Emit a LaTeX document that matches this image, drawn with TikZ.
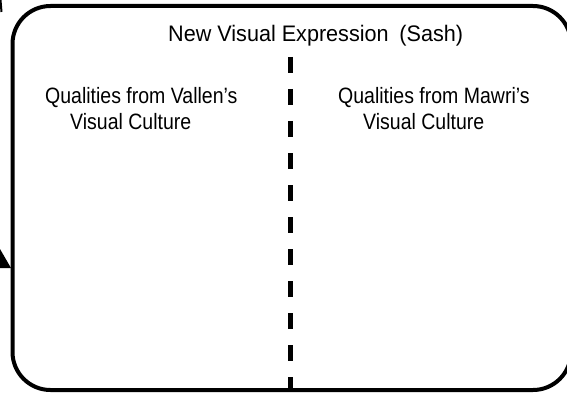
\documentclass[tikz,border=0pt]{standalone}
\usepackage{fontspec}
\usepackage{graphicx}
\setmainfont{Liberation Sans}
\newcommand{\tallbody}[1]{\scalebox{1}[1.14]{#1}}
\newcommand{\talltitle}[1]{\scalebox{1}[1.04]{#1}}
\begin{document}
\begin{tikzpicture}[x=1pt,y=-1pt,
  boxline/.style={line width=4pt, rounded corners=38pt},
  divider/.style={line width=5pt, dash pattern=on 16pt off 16pt},
  titletext/.style={anchor=base west, inner sep=0pt, font=\fontsize{21.6}{25}\selectfont},
  bodytext/.style={anchor=base west, inner sep=0pt, font=\fontsize{19.5}{24}\selectfont}]
\useasboundingbox (0,0) rectangle (567,393);
% main rounded frame
\draw[boxline] (12.5,6) rectangle (571,390);
% fragments of outside shapes
\fill (0,249) -- (11,268) -- (0,268) -- cycle;
\draw[line width=2pt] (0.5,0) -- (1.5,12);
% divider
\coordinate (dtop) at (290.5,57);
\coordinate (dbot) at (290.5,390);
\draw[divider] (dtop) -- (dbot);
% texts
\node[titletext] (title) at (168,42) {\talltitle{New Visual Expression\hspace{0.5em}(Sash)}};
\node[bodytext] (l1) at (45,103) {\tallbody{Qualities from Vallen’s}};
\node[bodytext] (l2) at (70,129) {\tallbody{Visual Culture}};
\node[bodytext] (r1) at (338,103) {\tallbody{Qualities from Mawri’s}};
\node[bodytext] (r2) at (363,129) {\tallbody{Visual Culture}};
\end{tikzpicture}
\end{document}
